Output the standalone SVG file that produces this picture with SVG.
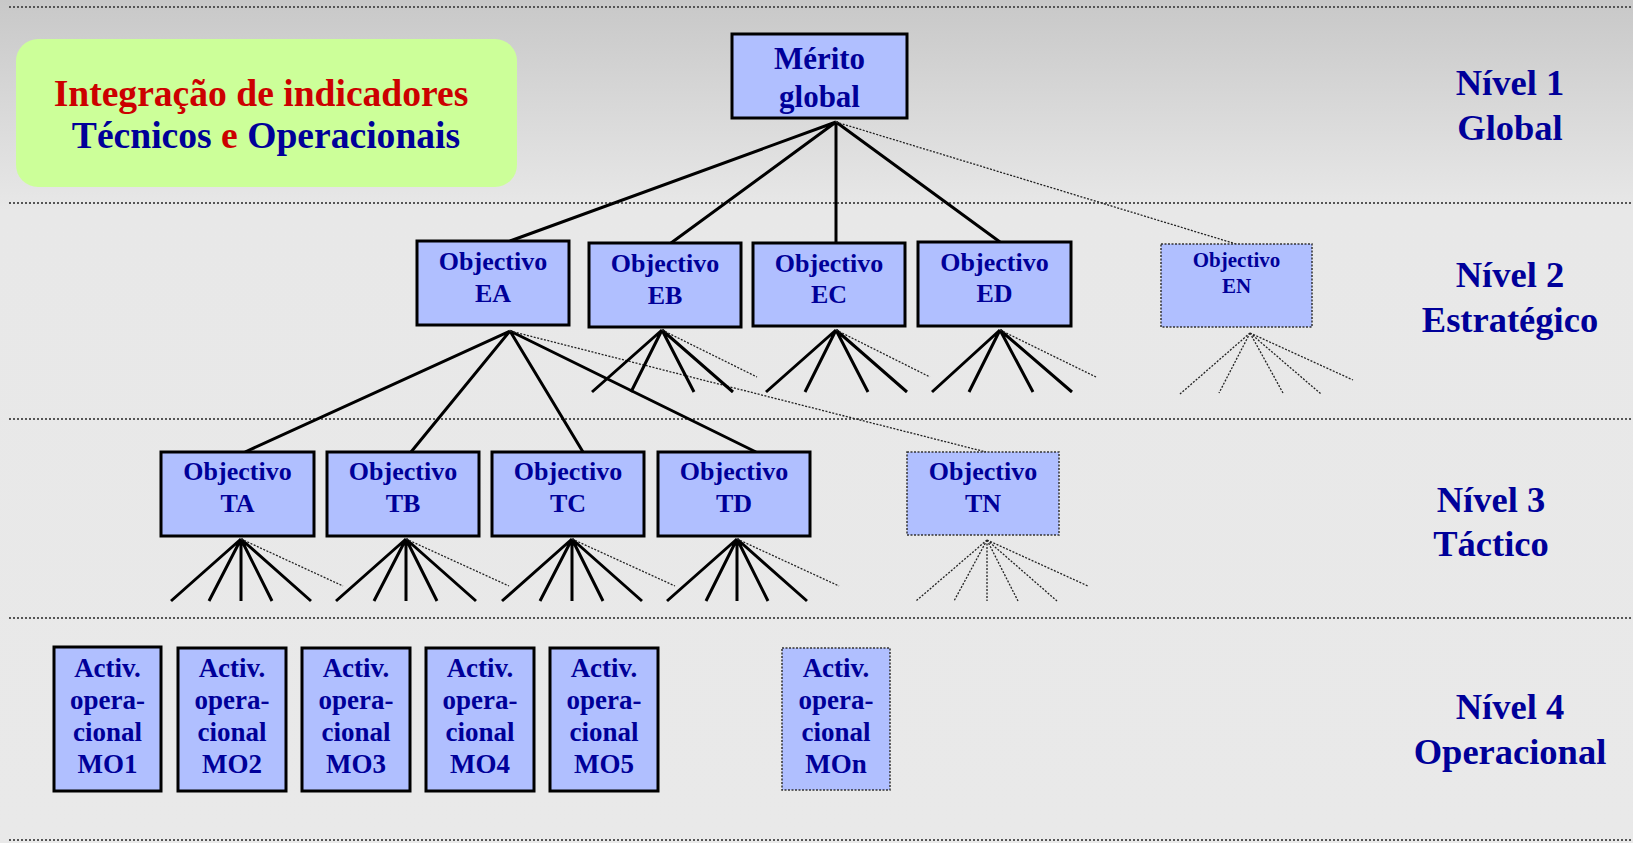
<svg xmlns="http://www.w3.org/2000/svg" width="1633" height="843" viewBox="0 0 1633 843">
<defs>
<linearGradient id="bg" x1="0" y1="0" x2="0" y2="843" gradientUnits="userSpaceOnUse">
<stop offset="0" stop-color="#c8c8c8"/>
<stop offset="0.25" stop-color="#e8e8e8"/>
<stop offset="1" stop-color="#e9e9e9"/>
</linearGradient>
</defs>
<style>
text{font-family:"Liberation Serif","Times New Roman",serif;font-weight:bold;text-anchor:middle;fill:#000099}
.box{fill:#b0bfff;stroke:#000;stroke-width:3}
.dbox{fill:#b0bfff;stroke:#333;stroke-width:1.5;stroke-dasharray:2 1.5}
.sep{stroke:#555;stroke-width:1.8;stroke-dasharray:2 2}
.solid{stroke:#000;stroke-width:3;fill:none}
.dot{stroke:#222;stroke-width:1.3;stroke-dasharray:2 1.5;fill:none}
.red{fill:#cc0000}
.f31{font-size:31px}.f26{font-size:26px}.f21{font-size:21px}.f27{font-size:27px}.f36{font-size:36.5px}.f38{font-size:37.6px}
</style>
<rect x="0" y="0" width="1633" height="843" fill="url(#bg)"/>
<g id="separators">
<line class="sep" x1="9" y1="7" x2="1633" y2="7"/>
<line class="sep" x1="9" y1="203" x2="1633" y2="203"/>
<line class="sep" x1="9" y1="419" x2="1633" y2="419"/>
<line class="sep" x1="9" y1="618" x2="1633" y2="618"/>
<line class="sep" x1="9" y1="840" x2="1631" y2="840"/>
</g>
<g id="title">
<rect x="16" y="39" width="501" height="148" rx="22" ry="22" fill="#ccff99"/>
<text class="f38 red" x="261" y="106">Integração de indicadores</text>
<text class="f38" x="266" y="148">Técnicos <tspan class="red">e</tspan> Operacionais</text>
</g>
<g id="connectors">
<path class="solid" d="M836 122L510 241M836 122L671 243M836 122L836 243M836 122L1000 242"/>
<path class="dot" d="M836 122L1236 244"/>
<path class="solid" d="M510 331L245 452M510 331L411 452M510 331L583 452M510 331L756 452"/>
<path class="dot" d="M510 331L986 452"/>
<path class="solid" d="M662 330L592 392M662 330L631 392M662 330L694 392M662 330L733 392"/>
<path class="dot" d="M662 330L757 377"/>
<path class="solid" d="M836 330L766 392M836 330L805 392M836 330L868 392M836 330L907 392"/>
<path class="dot" d="M836 330L930 377"/>
<path class="solid" d="M1000 330L932 392M1000 330L969 392M1000 330L1033 392M1000 330L1072 392"/>
<path class="dot" d="M1000 330L1096 377"/>
<path class="dot" d="M1250 333L1180 394M1250 333L1219 393M1250 333L1283 393M1250 333L1321 394M1250 333L1353 380"/>
<path class="solid" d="M241 539L171 601M241 539L209 601M241 539L241 601M241 539L272 601M241 539L311 601"/>
<path class="dot" d="M241 539L343 586"/>
<path class="solid" d="M406 539L336 601M406 539L374 601M406 539L406 601M406 539L437 601M406 539L476 601"/>
<path class="dot" d="M406 539L509 586"/>
<path class="solid" d="M572 539L502 601M572 539L540 601M572 539L572 601M572 539L603 601M572 539L642 601"/>
<path class="dot" d="M572 539L675 586"/>
<path class="solid" d="M737 539L667 601M737 539L706 601M737 539L737 601M737 539L768 601M737 539L807 601"/>
<path class="dot" d="M737 539L839 586"/>
<path class="dot" d="M987 540L916 601M987 540L954 601M987 540L987 601M987 540L1018 601M987 540L1057 601M987 540L1088 586"/>
</g>
<g id="merito"><rect class="box" x="732" y="34" width="175" height="84"/><text class="f31" x="819.5" y="69">Mérito</text><text class="f31" x="819.5" y="107">global</text></g>
<g id="EA"><rect class="box" x="417" y="241" width="152" height="84"/><text class="f26" x="493" y="270">Objectivo</text><text class="f26" x="493" y="302">EA</text></g>
<g id="EB"><rect class="box" x="589" y="243" width="152" height="84"/><text class="f26" x="665" y="272">Objectivo</text><text class="f26" x="665" y="304">EB</text></g>
<g id="EC"><rect class="box" x="753" y="243" width="152" height="83"/><text class="f26" x="829" y="272">Objectivo</text><text class="f26" x="829" y="303">EC</text></g>
<g id="ED"><rect class="box" x="918" y="242" width="153" height="84"/><text class="f26" x="994.5" y="271">Objectivo</text><text class="f26" x="994.5" y="302">ED</text></g>
<g id="EN"><rect class="dbox" x="1161" y="244" width="151" height="83"/><text class="f21" x="1236.5" y="267">Objectivo</text><text class="f21" x="1236.5" y="293">EN</text></g>
<g id="TA"><rect class="box" x="161" y="452" width="153" height="84"/><text class="f26" x="237.5" y="480">Objectivo</text><text class="f26" x="237.5" y="512">TA</text></g>
<g id="TB"><rect class="box" x="327" y="452" width="152" height="84"/><text class="f26" x="403" y="480">Objectivo</text><text class="f26" x="403" y="512">TB</text></g>
<g id="TC"><rect class="box" x="492" y="452" width="152" height="84"/><text class="f26" x="568" y="480">Objectivo</text><text class="f26" x="568" y="512">TC</text></g>
<g id="TD"><rect class="box" x="658" y="452" width="152" height="84"/><text class="f26" x="734" y="480">Objectivo</text><text class="f26" x="734" y="512">TD</text></g>
<g id="TN"><rect class="dbox" x="907" y="452" width="152" height="83"/><text class="f26" x="983" y="480">Objectivo</text><text class="f26" x="983" y="512">TN</text></g>
<g id="MO1"><rect class="box" x="54" y="647" width="107" height="144"/><text class="f27" x="107.5" y="677">Activ.</text><text class="f27" x="107.5" y="709">opera-</text><text class="f27" x="107.5" y="741">cional</text><text class="f27" x="107.5" y="773">MO1</text></g>
<g id="MO2"><rect class="box" x="178" y="648" width="108" height="143"/><text class="f27" x="232" y="677">Activ.</text><text class="f27" x="232" y="709">opera-</text><text class="f27" x="232" y="741">cional</text><text class="f27" x="232" y="773">MO2</text></g>
<g id="MO3"><rect class="box" x="302" y="648" width="108" height="143"/><text class="f27" x="356" y="677">Activ.</text><text class="f27" x="356" y="709">opera-</text><text class="f27" x="356" y="741">cional</text><text class="f27" x="356" y="773">MO3</text></g>
<g id="MO4"><rect class="box" x="426" y="648" width="108" height="143"/><text class="f27" x="480" y="677">Activ.</text><text class="f27" x="480" y="709">opera-</text><text class="f27" x="480" y="741">cional</text><text class="f27" x="480" y="773">MO4</text></g>
<g id="MO5"><rect class="box" x="550" y="648" width="108" height="143"/><text class="f27" x="604" y="677">Activ.</text><text class="f27" x="604" y="709">opera-</text><text class="f27" x="604" y="741">cional</text><text class="f27" x="604" y="773">MO5</text></g>
<g id="MOn"><rect class="dbox" x="782" y="648" width="108" height="142"/><text class="f27" x="836" y="677">Activ.</text><text class="f27" x="836" y="709">opera-</text><text class="f27" x="836" y="741">cional</text><text class="f27" x="836" y="773">MOn</text></g>
<g id="levels">
<text class="f36" x="1510" y="95">Nível 1</text><text class="f36" x="1510" y="140">Global</text>
<text class="f36" x="1510" y="287">Nível 2</text><text class="f36" x="1510" y="332">Estratégico</text>
<text class="f36" x="1491" y="512">Nível 3</text><text class="f36" x="1491" y="556">Táctico</text>
<text class="f36" x="1510" y="719">Nível 4</text><text class="f36" x="1510" y="764">Operacional</text>
</g>
</svg>
